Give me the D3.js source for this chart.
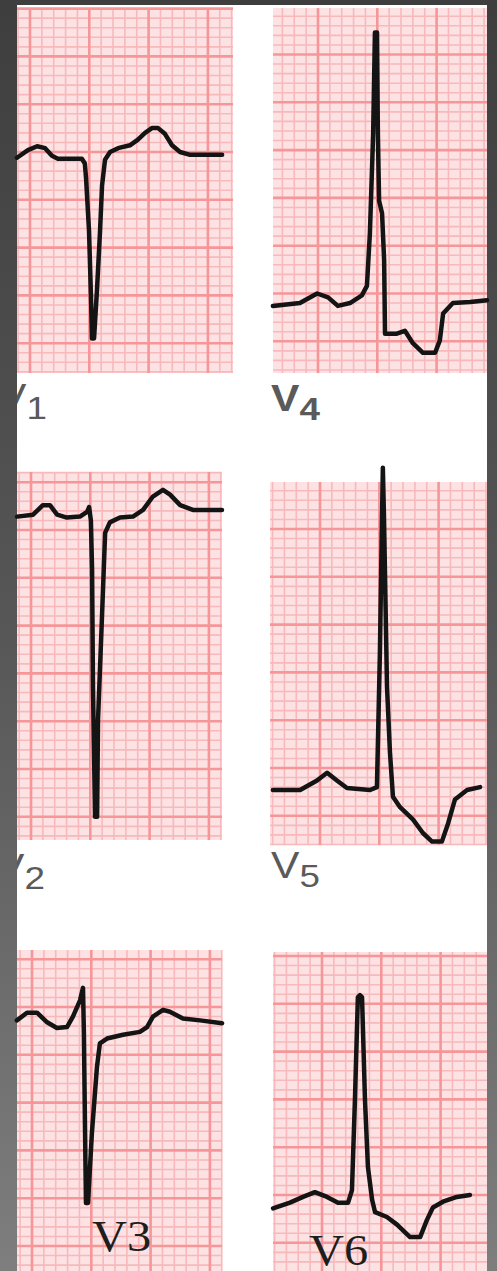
<!DOCTYPE html>
<html>
<head>
<meta charset="utf-8">
<script src="https://cdn.jsdelivr.net/npm/d3@7"></script>
<style>
body { margin: 0; background: #4a4a4a; }
svg { display: block; }
</style>
</head>
<body>
<svg></svg>
<script>
// precordial leads, one beat each: [time ms, amplitude mV]
var leadNames = ["V1", "V2", "V3", "V4", "V5", "V6"];

var v1Trace = [[-44,-0.06],[-7,0.02],[24,0.06],[51,0.04],[74,-0.04],[94,-0.07],[175,-0.07],[185,-0.12],[189,-0.27],[199,-0.82],[206,-1.55],[209,-1.95],[216,-1.95],[226,-1.44],[236,-0.84],[243,-0.35],[253,-0.08],[270,0],[297,0.04],[337,0.07],[364,0.13],[388,0.2],[411,0.25],[432,0.25],[455,0.19],[479,0.07],[506,0],[540,-0.03],[648,-0.03]];
var v2Trace = [[-47,0.14],[7,0.16],[40,0.26],[64,0.26],[88,0.16],[121,0.13],[165,0.14],[189,0.19],[196,0.24],[202,0.1],[206,-0.42],[209,-1.64],[216,-3.0],[223,-3.0],[226,-1.99],[239,-0.94],[250,-0.03],[266,0.08],[300,0.13],[344,0.14],[378,0.21],[411,0.35],[445,0.42],[469,0.37],[503,0.26],[546,0.21],[644,0.21]];
var v3Trace = [[-51,-0.14],[-17,-0.06],[17,-0.06],[51,-0.16],[84,-0.22],[118,-0.21],[138,-0.1],[162,0.07],[172,0.2],[175,-0.27],[179,-1.32],[182,-2.05],[189,-2.05],[202,-1.32],[219,-0.63],[229,-0.38],[253,-0.33],[307,-0.29],[364,-0.26],[388,-0.21],[408,-0.1],[442,-0.03],[465,-0.05],[509,-0.12],[567,-0.14],[641,-0.17]];
var v4Trace = [[-152,-0.13],[-61,-0.1],[-3,0],[34,-0.04],[67,-0.13],[108,-0.1],[148,-0.02],[165,0.08],[175,0.63],[186,1.67],[192,2.73],[199,2.73],[202,1.67],[206,0.97],[216,0.84],[223,0.35],[226,-0.42],[266,-0.42],[293,-0.39],[320,-0.52],[354,-0.62],[395,-0.62],[411,-0.49],[422,-0.21],[455,-0.1],[513,-0.09],[570,-0.07]];
var v5Trace = [[-159,-0.23],[-67,-0.23],[-10,-0.13],[24,-0.05],[57,-0.13],[91,-0.21],[169,-0.23],[192,-0.2],[202,1.2],[209,2.59],[212,3.14],[216,2.59],[226,0.85],[236,0.16],[246,-0.3],[270,-0.41],[314,-0.54],[347,-0.68],[378,-0.77],[411,-0.77],[432,-0.58],[455,-0.33],[496,-0.23],[540,-0.2]];
var v6Trace = [[-165,-0.14],[-108,-0.08],[-64,-0.02],[-24,0.03],[17,-0.02],[54,-0.08],[88,-0.08],[101,0.05],[111,0.99],[121,2.07],[128,2.09],[135,2.07],[145,0.99],[155,0.29],[169,-0.05],[179,-0.18],[219,-0.23],[253,-0.31],[297,-0.44],[331,-0.44],[354,-0.26],[374,-0.13],[408,-0.07],[455,-0.02],[499,0]];

// ecg paper: small box 40 ms x 0.1 mV, big box every 5
var minorMs = 40, minorMv = 0.1, boxesPerMajor = 5;

var width = 497, height = 1271;
var pxPerMs = 59.3 / 200;
var pxPerMv = 47.8 / 0.5;

var svg = d3.select("svg").attr("width", width).attr("height", height);
var defs = svg.append("defs");

var grad = defs.append("linearGradient").attr("id", "bg")
    .attr("x1", 0).attr("y1", 0).attr("x2", 0).attr("y2", 1);
grad.append("stop").attr("offset", "0%").attr("stop-color", "#3e3e3e");
grad.append("stop").attr("offset", "50%").attr("stop-color", "#575757");
grad.append("stop").attr("offset", "100%").attr("stop-color", "#7e7e7e");

svg.append("rect").attr("width", width).attr("height", height).attr("fill", "url(#bg)");

var sheet = { x: 17, y: 5, w: 470, h: 1266 };
svg.append("rect")
    .attr("x", sheet.x).attr("y", sheet.y)
    .attr("width", sheet.w).attr("height", sheet.h)
    .attr("fill", "#ffffff");

defs.append("clipPath").attr("id", "sheetClip")
    .append("rect")
    .attr("x", sheet.x).attr("y", sheet.y)
    .attr("width", sheet.w).attr("height", sheet.h);

var panels = [
    { lead: 0, trace: v1Trace, left: 17,  right: 233, top: 8,   bottom: 373,  xRef: 30,  yRef: 152 },
    { lead: 1, trace: v2Trace, left: 17,  right: 222, top: 472, bottom: 840,  xRef: 31,  yRef: 530 },
    { lead: 2, trace: v3Trace, left: 17,  right: 222, top: 950, bottom: 1271, xRef: 32,  yRef: 1007 },
    { lead: 3, trace: v4Trace, left: 273, right: 487, top: 8,   bottom: 373,  xRef: 318, yRef: 293.5 },
    { lead: 4, trace: v5Trace, left: 270, right: 487, top: 482, bottom: 845,  xRef: 320, yRef: 768 },
    { lead: 5, trace: v6Trace, left: 273, right: 487, top: 952, bottom: 1271, xRef: 322, yRef: 1195 }
];

// label placement: sub = digit dropped below, plain = serif inline
var labels = [
    { style: "sub",   x: -2,  y: 410, bold: false },
    { style: "sub",   x: -4,  y: 880, bold: false },
    { style: "plain", x: 92,  y: 1251 },
    { style: "sub",   x: 271, y: 411, bold: true },
    { style: "sub",   x: 271, y: 878, bold: false },
    { style: "plain", x: 309, y: 1265 }
];

var line = d3.line().x(function (d) { return d.px; }).y(function (d) { return d.py; });

panels.forEach(function (p) {
    var x = d3.scaleLinear()
        .domain([(p.left - p.xRef) / pxPerMs, (p.right - p.xRef) / pxPerMs])
        .range([p.left, p.right]);
    var y = d3.scaleLinear()
        .domain([(p.yRef - p.bottom) / pxPerMv, (p.yRef - p.top) / pxPerMv])
        .range([p.bottom, p.top]);

    var g = svg.append("g").attr("class", "panel");
    g.append("rect")
        .attr("x", p.left).attr("y", p.top)
        .attr("width", p.right - p.left).attr("height", p.bottom - p.top)
        .attr("fill", "#fde2e4");

    var xd = x.domain(), yd = y.domain();
    var xk = d3.range(Math.ceil(xd[0] / minorMs), Math.floor(xd[1] / minorMs) + 1);
    var yk = d3.range(Math.ceil(yd[0] / minorMv - 1e-6), Math.floor(yd[1] / minorMv + 1e-6) + 1);

    function isMajor(k) { return k % boxesPerMajor === 0; }

    [false, true].forEach(function (major) {
        g.selectAll(null)
            .data(xk.filter(function (k) { return isMajor(k) === major; }))
            .enter().append("line")
            .attr("x1", function (k) { return x(k * minorMs); })
            .attr("x2", function (k) { return x(k * minorMs); })
            .attr("y1", p.top).attr("y2", p.bottom)
            .attr("stroke", major ? "#f69698" : "#f7b9bb")
            .attr("stroke-width", major ? 2.6 : 1.6);
        g.selectAll(null)
            .data(yk.filter(function (k) { return isMajor(k) === major; }))
            .enter().append("line")
            .attr("y1", function (k) { return y(k * minorMv); })
            .attr("y2", function (k) { return y(k * minorMv); })
            .attr("x1", p.left).attr("x2", p.right)
            .attr("stroke", major ? "#f69698" : "#f7b9bb")
            .attr("stroke-width", major ? 2.6 : 1.6);
    });

    var pts = p.trace.map(function (d) { return { px: x(d[0]), py: y(d[1]) }; });
    svg.append("path")
        .attr("d", line(pts))
        .attr("fill", "none")
        .attr("stroke", "#141414")
        .attr("stroke-width", 4.5)
        .attr("stroke-linejoin", "round")
        .attr("stroke-linecap", "round");
});

var labelLayer = svg.append("g").attr("clip-path", "url(#sheetClip)");
panels.forEach(function (p) {
    var name = leadNames[p.lead];
    var lb = labels[p.lead];
    if (lb.style === "sub") {
        var t = labelLayer.append("text")
            .attr("transform", "translate(" + lb.x + "," + lb.y + ") scale(1.15,1)")
            .attr("font-family", "Liberation Sans, Arial, sans-serif")
            .attr("font-weight", lb.bold ? "bold" : "normal")
            .attr("fill", "#5a5a5a");
        t.append("tspan").attr("font-size", 37).text(name.charAt(0));
        t.append("tspan").attr("font-size", 32).attr("dy", 9).text(name.slice(1));
    } else {
        labelLayer.append("text")
            .attr("transform", "translate(" + lb.x + "," + lb.y + ") scale(1.1,1)")
            .attr("font-family", "Liberation Serif, Times New Roman, serif")
            .attr("font-size", 44)
            .attr("fill", "#1e1e1e")
            .text(name);
    }
});
</script>
</body>
</html>
